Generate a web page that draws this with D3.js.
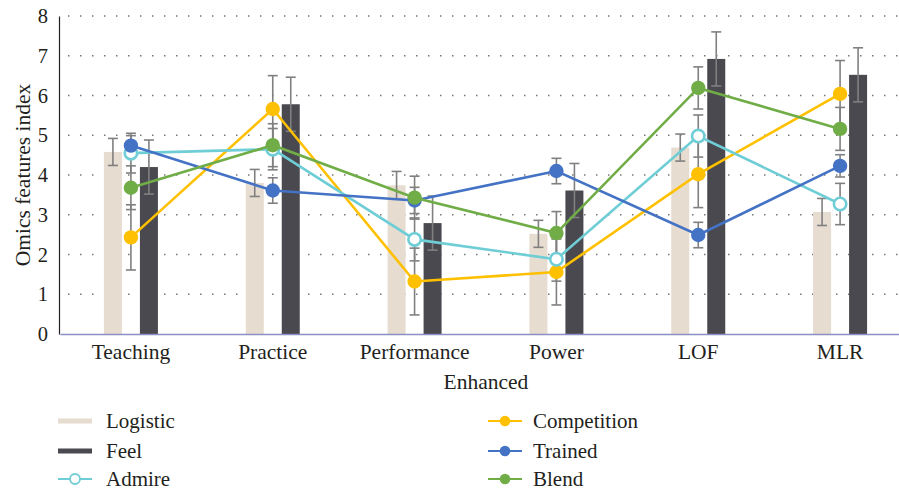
<!DOCTYPE html>
<html>
<head>
<meta charset="utf-8">
<script src="https://cdn.jsdelivr.net/npm/d3@7"></script>
<style>
  html, body { margin: 0; padding: 0; background: #fff; }
  svg { display: block; }
  svg text { font-family: "Liberation Serif", "Times New Roman", serif; fill: #231f20; }
</style>
</head>
<body>
<svg id="chart" width="899" height="491"></svg>
<script>
// Categories and tick labels
const categories = ["Teaching", "Practice", "Performance", "Power", "LOF", "MLR"];
const yTicks = [0, 1, 2, 3, 4, 5, 6, 7, 8];

// Bar series (mean and error half-width)
const logistic    = [4.58, 3.80, 3.74, 2.52, 4.69, 3.07];
const logisticErr = [0.34, 0.34, 0.35, 0.34, 0.34, 0.34];
const feel        = [4.20, 5.78, 2.79, 3.61, 6.92, 6.52];
const feelErr     = [0.68, 0.68, 0.68, 0.68, 0.68, 0.68];

// Line series (mean and error half-width)
const admire         = [4.55, 4.65, 2.38, 1.88, 4.98, 3.27];
const admireErr      = [0.50, 0.52, 0.54, 0.55, 0.53, 0.52];
const competition    = [2.43, 5.66, 1.32, 1.56, 4.02, 6.04];
const competitionErr = [0.82, 0.84, 0.84, 0.83, 0.84, 0.84];
const trained        = [4.74, 3.61, 3.36, 4.10, 2.49, 4.23];
const trainedErr     = [0.25, 0.32, 0.33, 0.32, 0.32, 0.28];
const blend          = [3.68, 4.75, 3.43, 2.54, 6.19, 5.16];
const blendErr       = [0.55, 0.54, 0.54, 0.54, 0.53, 0.54];

const colors = {
  logistic: "#e6dcd0",
  feel: "#4a494f",
  admire: "#6fcdd6",
  competition: "#ffc000",
  trained: "#4472c4",
  blend: "#70ad47",
  err: "#808080"
};

const FONT = '"Liberation Serif", "Times New Roman", serif';
const svg = d3.select("#chart");
const margin = { left: 60, right: -12, top: 16, bottom: 157 };
const W = 899, H = 491;

const x = d3.scaleBand().domain(categories).range([margin.left, W - margin.right]).padding(0);
const y = d3.scaleLinear().domain([0, 8]).range([H - margin.bottom, margin.top]);
const cx = c => x(c) + x.bandwidth() / 2;

// Dotted horizontal gridlines
svg.append("g").selectAll("line").data(yTicks.filter(t => t > 0)).join("line")
  .attr("x1", margin.left + 8).attr("x2", W)
  .attr("y1", d => y(d)).attr("y2", d => y(d))
  .attr("stroke", "#777").attr("stroke-width", 1.5)
  .attr("stroke-dasharray", "1.5 10.5");

// Y axis
const yAxis = svg.append("g").attr("transform", `translate(${margin.left - 1},0)`)
  .call(d3.axisLeft(y).tickValues(yTicks).tickSize(0).tickPadding(11).tickFormat(d3.format("d")));
yAxis.attr("font-family", null);
yAxis.select(".domain").attr("stroke", "#231f20").attr("stroke-width", 1.2);
yAxis.selectAll("text").style("font-size", "20.5px").attr("fill", "#231f20").style("font-family", FONT);

// Bars
const barW = 18, barOff = 18;
function drawBars(vals, color, offset) {
  svg.append("g").selectAll("rect").data(categories).join("rect")
    .attr("x", c => cx(c) + offset - barW / 2)
    .attr("width", barW)
    .attr("y", (c, i) => y(vals[i]))
    .attr("height", (c, i) => y(0) - y(vals[i]))
    .attr("fill", color);
}
drawBars(logistic, colors.logistic, -barOff);
drawBars(feel, colors.feel, barOff);

// X axis
const xAxis = svg.append("g").attr("transform", `translate(0,${y(0)})`)
  .call(d3.axisBottom(x).tickSize(0).tickPadding(10));
xAxis.attr("font-family", null);
xAxis.select(".domain").attr("stroke", "#8b8fc4").attr("stroke-width", 1.4);
xAxis.selectAll("text").style("font-size", "21.5px").attr("fill", "#231f20").style("font-family", FONT);

// Error bars
function drawErr(vals, errs, offset) {
  const g = svg.append("g").attr("stroke", colors.err).attr("stroke-width", 1.6).attr("fill", "none");
  categories.forEach((c, i) => {
    const xc = cx(c) + offset;
    const y1 = y(vals[i] + errs[i]), y2 = y(vals[i] - errs[i]);
    g.append("line").attr("x1", xc).attr("x2", xc).attr("y1", y1).attr("y2", y2);
    g.append("line").attr("x1", xc - 5).attr("x2", xc + 5).attr("y1", y1).attr("y2", y1);
    g.append("line").attr("x1", xc - 5).attr("x2", xc + 5).attr("y1", y2).attr("y2", y2);
  });
}
drawErr(logistic, logisticErr, -barOff);
drawErr(feel, feelErr, barOff);
drawErr(admire, admireErr, 0);
drawErr(competition, competitionErr, 0);
drawErr(trained, trainedErr, 0);
drawErr(blend, blendErr, 0);

// Lines with markers
const line = d3.line().x((d, i) => cx(categories[i])).y(d => y(d));
function drawSeries(vals, color, hollow) {
  const g = svg.append("g");
  g.append("path").datum(vals).attr("d", line)
    .attr("fill", "none").attr("stroke", color).attr("stroke-width", 2.6);
  g.selectAll("circle").data(vals).join("circle")
    .attr("cx", (d, i) => cx(categories[i])).attr("cy", d => y(d))
    .attr("r", hollow ? 6.2 : 7.2)
    .attr("fill", hollow ? "#fff" : color)
    .attr("stroke", hollow ? color : "none")
    .attr("stroke-width", hollow ? 2.6 : 0);
}
drawSeries(competition, colors.competition, false);
drawSeries(admire, colors.admire, true);
drawSeries(trained, colors.trained, false);
drawSeries(blend, colors.blend, false);

// Axis titles
svg.append("text").attr("x", 486).attr("y", 381).attr("dy", "0.35em")
  .attr("text-anchor", "middle").style("font-size", "21.5px").style("font-family", FONT).text("Enhanced");
svg.append("text").attr("transform", `translate(22,${(y(0) + y(8)) / 2}) rotate(-90)`)
  .attr("dy", "0.35em")
  .attr("text-anchor", "middle").style("font-size", "21.5px").style("font-family", FONT).text("Omics features index");

// Legend
const legendItems = [
  { name: "Logistic", color: colors.logistic, type: "bar", col: 0, row: 0 },
  { name: "Feel", color: colors.feel, type: "bar", col: 0, row: 1 },
  { name: "Admire", color: colors.admire, type: "hollow", col: 0, row: 2 },
  { name: "Competition", color: colors.competition, type: "dot", col: 1, row: 0 },
  { name: "Trained", color: colors.trained, type: "dot", col: 1, row: 1 },
  { name: "Blend", color: colors.blend, type: "dot", col: 1, row: 2 }
];
const legX = [58, 488], legY = [421, 451, 479];
const lg = svg.append("g");
legendItems.forEach(it => {
  const x0 = legX[it.col], yy = legY[it.row];
  if (it.type === "bar") {
    lg.append("line").attr("x1", x0).attr("x2", x0 + 34).attr("y1", yy).attr("y2", yy)
      .attr("stroke", it.color).attr("stroke-width", 5);
  } else {
    lg.append("line").attr("x1", x0).attr("x2", x0 + 34).attr("y1", yy).attr("y2", yy)
      .attr("stroke", it.color).attr("stroke-width", 2);
    lg.append("circle").attr("cx", x0 + 17).attr("cy", yy)
      .attr("r", it.type === "hollow" ? 5 : 5.3)
      .attr("fill", it.type === "hollow" ? "#fff" : it.color)
      .attr("stroke", it.type === "hollow" ? it.color : "none")
      .attr("stroke-width", 1.8);
  }
  lg.append("text").attr("x", x0 + (it.col === 0 ? 48 : 45)).attr("y", yy).attr("dy", "0.35em")
    .style("font-size", "21px").style("font-family", FONT).text(it.name);
});
</script>
</body>
</html>
